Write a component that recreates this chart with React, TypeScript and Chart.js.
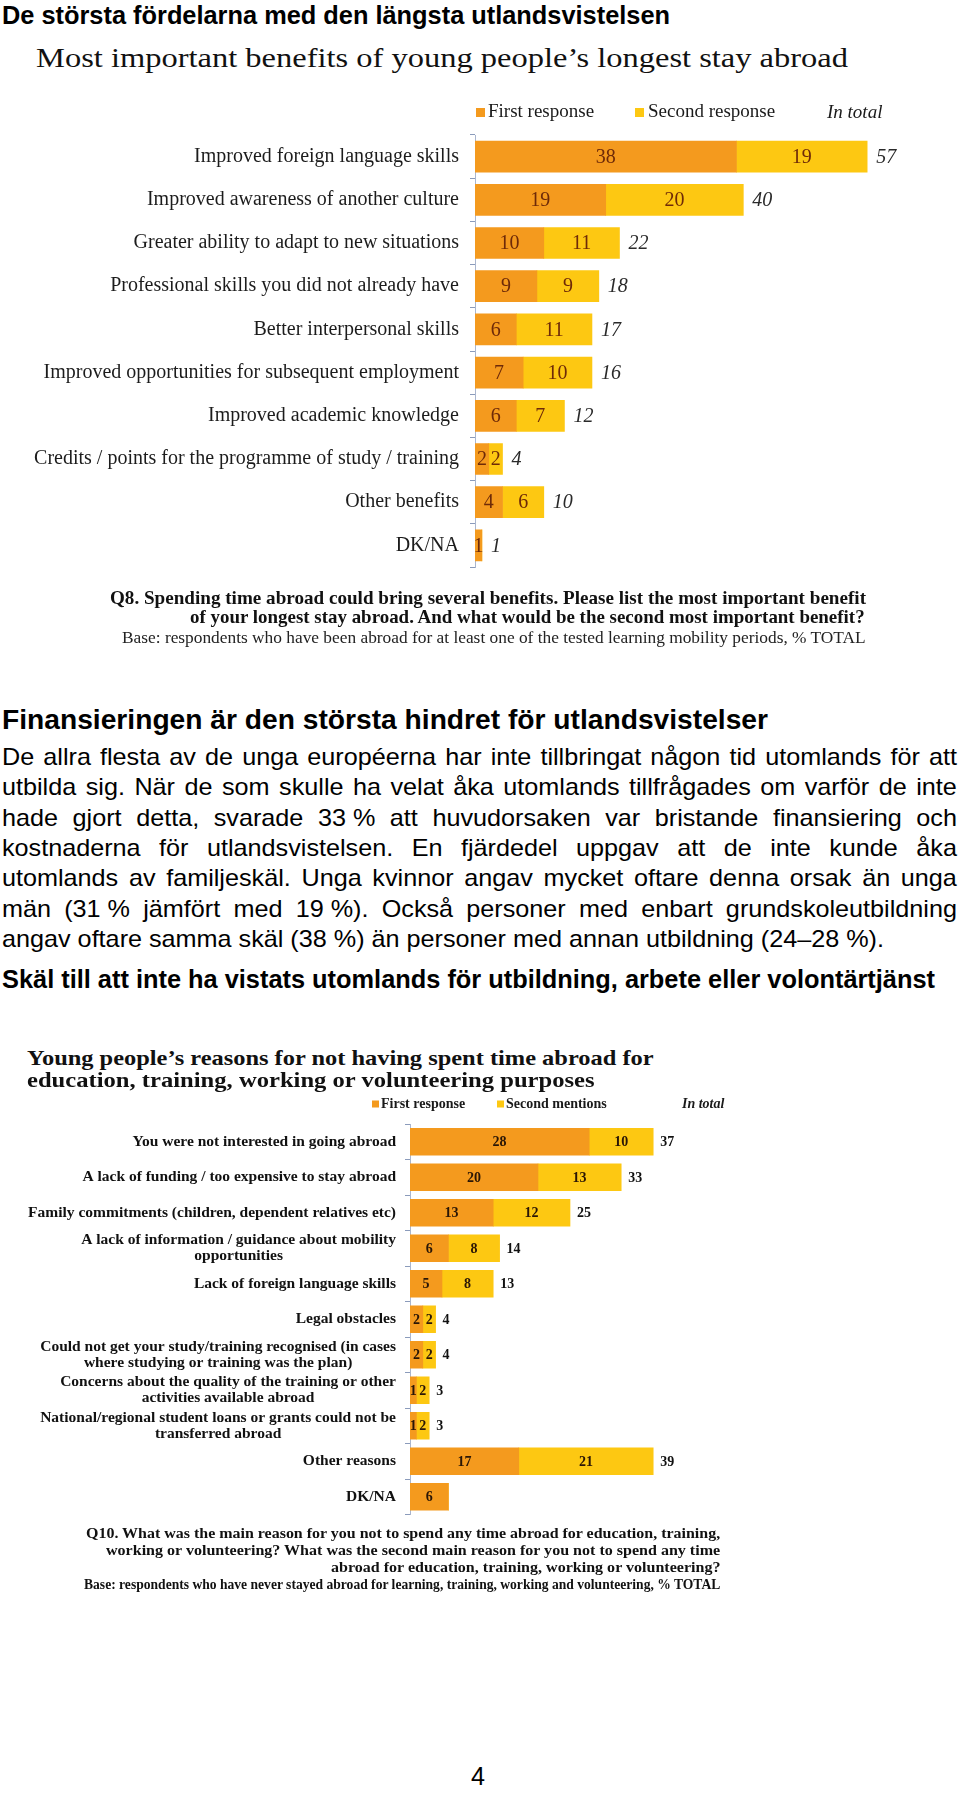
import React, { useEffect, useRef } from 'react';
import { Chart, registerables } from 'chart.js';
Chart.register(...registerables);

// ---------- Data: chart 1 ----------
const benefitCategories = [
  'Improved foreign language skills',
  'Improved awareness of another culture',
  'Greater ability to adapt to new situations',
  'Professional skills you did not already have',
  'Better interpersonal skills',
  'Improved opportunities for subsequent employment',
  'Improved academic knowledge',
  'Credits / points for the programme of study / training',
  'Other benefits',
  'DK/NA',
];
const benefitFirst = [38, 19, 10, 9, 6, 7, 6, 2, 4, 1];
const benefitSecond = [19, 20, 11, 9, 11, 10, 7, 2, 6, 0];
const benefitTotal: (number | null)[] = [57, 40, 22, 18, 17, 16, 12, 4, 10, 1];
const benefitLegend = ['First response', 'Second response', 'In total'];

// ---------- Data: chart 2 ----------
const reasonCategories: string[][] = [
  ['You were not interested in going abroad'],
  ['A lack of funding / too expensive to stay abroad'],
  ['Family commitments (children, dependent relatives etc)'],
  ['A lack of information / guidance about mobility', 'opportunities'],
  ['Lack of foreign language skills'],
  ['Legal obstacles'],
  ['Could not get your study/training recognised (in cases', 'where studying or training was the plan)'],
  ['Concerns about the quality of the training or other', 'activities available abroad'],
  ['National/regional student loans or grants could not be', 'transferred abroad'],
  ['Other reasons'],
  ['DK/NA'],
];
const reasonFirst = [28, 20, 13, 6, 5, 2, 2, 1, 1, 17, 6];
const reasonSecond = [10, 13, 12, 8, 8, 2, 2, 2, 2, 21, 0];
const reasonTotal: (number | null)[] = [37, 33, 25, 14, 13, 4, 4, 3, 3, 39, null];
const reasonLegend = ['First response', 'Second mentions', 'In total'];

// ---------- Text ----------
const pageTitle = 'De största fördelarna med den längsta utlandsvistelsen';
const chart1Title = 'Most important benefits of young people\u2019s longest stay abroad';
const chart1Notes = [
  'Q8. Spending time abroad could bring several benefits. Please list the most important benefit',
  'of your longest stay abroad. And what would be the second most important benefit?',
  'Base: respondents who have been abroad for at least one of the tested learning mobility periods, % TOTAL',
];
const heading2 = 'Finansieringen är den största hindret för utlandsvistelser';
const bodyLines = [
  'De allra flesta av de unga européerna har inte tillbringat någon tid utomlands för att',
  'utbilda sig. När de som skulle ha velat åka utomlands tillfrågades om varför de inte',
  'hade gjort detta, svarade 33\u00a0% att huvudorsaken var bristande finansiering och',
  'kostnaderna för utlandsvistelsen. En fjärdedel uppgav att de inte kunde åka',
  'utomlands av familjeskäl. Unga kvinnor angav mycket oftare denna orsak än unga',
  'män (31\u00a0% jämfört med 19\u00a0%). Också personer med enbart grundskoleutbildning',
  'angav oftare samma skäl (38\u00a0%) än personer med annan utbildning (24\u201328\u00a0%).',
];
const heading3 = 'Skäl till att inte ha vistats utomlands för utbildning, arbete eller volontärtjänst';
const chart2TitleLines = [
  'Young people\u2019s reasons for not having spent time abroad for',
  'education, training, working or volunteering purposes',
];
const chart2Notes = [
  'Q10. What was the main reason for you not to spend any time abroad for education, training,',
  'working or volunteering? What was the second main reason for you not to spend any time',
  'abroad for education, training, working or volunteering?',
  'Base: respondents who have never stayed abroad for learning, training, working and volunteering, % TOTAL',
];
const pageNumber = '4';

const FIRST_COLOR = '#F49A1E';
const SECOND_COLOR = '#FDC812';
const SANS = "'Liberation Sans', Arial, sans-serif";
const SERIF = "'Liberation Serif', 'Times New Roman', serif";

let mctx: CanvasRenderingContext2D | null = null;
function textWidth(text: string, font: string): number {
  if (!mctx) mctx = document.createElement('canvas').getContext('2d');
  mctx!.font = font;
  return mctx!.measureText(text).width;
}

function FitText(props: {
  text: string; left: number; right: number; cy: number; size: number;
  family: string; weight?: string; italic?: boolean; color?: string;
}) {
  const { text, left, right, cy, size, family, weight = 'normal', italic = false, color = '#000' } = props;
  const font = `${italic ? 'italic' : 'normal'} ${weight} ${size}px ${family}`;
  const w = textWidth(text, font);
  const k = (right - left) / w;
  return (
    <div
      style={{
        font, position: 'absolute', left, top: cy - size / 2, height: size, lineHeight: `${size}px`,
        whiteSpace: 'pre', color, transform: `scaleX(${k})`, transformOrigin: 'left center',
      }}
    >
      {text}
    </div>
  );
}

function BodyText() {
  const size = 24;
  const font = `normal normal ${size}px ${SANS}`;
  const last = bodyLines[bodyLines.length - 1];
  const k = 882 / textWidth(last, font);
  const left = 2;
  const fullW = 955;
  return (
    <>
      {bodyLines.map((line, i) => {
        const cy = 757 + i * 30.3;
        const isLast = i === bodyLines.length - 1;
        const words = line.split(' ');
        return (
          <div
            key={i}
            style={{
              font, position: 'absolute', left, top: cy - size / 2, height: size, lineHeight: `${size}px`,
              width: isLast ? undefined : fullW / k, display: 'flex',
              justifyContent: isLast ? 'flex-start' : 'space-between',
              whiteSpace: 'pre', color: '#000', transform: `scaleX(${k})`, transformOrigin: 'left center',
            }}
          >
            {isLast ? <span>{line}</span> : words.map((w, j) => <span key={j}>{w}</span>)}
          </div>
        );
      })}
    </>
  );
}

function valueLabelsPlugin(o: {
  first: number[]; second: number[]; total: (number | null)[];
  inFont: string; inColor: string; totFont: string; totColor: string; totGap: number;
}) {
  return {
    id: 'valueLabels',
    afterDatasetsDraw(chart: any) {
      const ctx = chart.ctx;
      const xs = chart.scales.x;
      const ys = chart.scales.y;
      ctx.save();
      ctx.textBaseline = 'middle';
      ctx.textAlign = 'center';
      ctx.font = o.inFont;
      ctx.fillStyle = o.inColor;
      [0, 1].forEach((di) => {
        const meta = chart.getDatasetMeta(di);
        const vals = di === 0 ? o.first : o.second;
        meta.data.forEach((bar: any, i: number) => {
          if (!vals[i]) return;
          const p = bar.getProps(['x', 'base', 'y'], true);
          ctx.fillText(String(vals[i]), (p.x + p.base) / 2, p.y + 1);
        });
      });
      ctx.textAlign = 'left';
      ctx.font = o.totFont;
      ctx.fillStyle = o.totColor;
      o.total.forEach((t, i) => {
        if (t == null) return;
        const end = xs.getPixelForValue(o.first[i] + o.second[i]);
        ctx.fillText(String(t), end + o.totGap, ys.getPixelForValue(i) + 1);
      });
      ctx.restore();
    },
  };
}

function legendPlugin(o: {
  labels: string[]; y: number; markers: number[]; texts: number[]; size: number; font: string; totalFont: string;
}) {
  return {
    id: 'customLegend',
    afterDraw(chart: any) {
      const ctx = chart.ctx;
      ctx.save();
      ctx.textBaseline = 'middle';
      ctx.textAlign = 'left';
      [FIRST_COLOR, SECOND_COLOR].forEach((c, i) => {
        ctx.fillStyle = c;
        ctx.fillRect(o.markers[i], o.y - o.size / 2, o.size, o.size);
      });
      ctx.fillStyle = '#1a1a1a';
      ctx.font = o.font;
      ctx.fillText(o.labels[0], o.texts[0], o.y);
      ctx.fillText(o.labels[1], o.texts[1], o.y);
      ctx.font = o.totalFont;
      ctx.fillText(o.labels[2], o.texts[2], o.y);
      ctx.restore();
    },
  };
}

const reasonLabelPlugin = {
  id: 'reasonLabels',
  afterDraw(chart: any) {
    const ctx = chart.ctx;
    const ys = chart.scales.y;
    const right = 396;
    ctx.save();
    ctx.font = `bold 15.5px ${SERIF}`;
    ctx.fillStyle = '#111';
    ctx.textBaseline = 'middle';
    ctx.textAlign = 'center';
    reasonCategories.forEach((lines, i) => {
      const widths = lines.map((l) => ctx.measureText(l).width);
      const maxW = Math.max(...widths);
      const cx = right - maxW / 2;
      const yc = ys.getPixelForValue(i);
      lines.forEach((l, j) => ctx.fillText(l, cx, yc + (j - (lines.length - 1) / 2) * 16));
    });
    ctx.restore();
  },
};

export default function App() {
  const c1 = useRef<HTMLCanvasElement>(null);
  const c2 = useRef<HTMLCanvasElement>(null);

  useEffect(() => {
    const axisBorder = { display: true, color: '#aab6ce', width: 1 };
    const axisGrid = { drawOnChartArea: false, drawTicks: true, tickLength: 5, color: '#8b9bbb', offset: true };

    const chart1 = new Chart(c1.current!, {
      type: 'bar',
      data: {
        labels: benefitCategories,
        datasets: [
          { label: benefitLegend[0], data: benefitFirst, backgroundColor: FIRST_COLOR, barThickness: 31, borderWidth: 0 },
          { label: benefitLegend[1], data: benefitSecond, backgroundColor: SECOND_COLOR, barThickness: 31, borderWidth: 0 },
        ],
      },
      options: {
        indexAxis: 'y',
        responsive: false,
        animation: false,
        layout: { padding: { top: 45, bottom: 18, left: 0, right: 3.4 } },
        scales: {
          x: { stacked: true, display: false, min: 0, max: 70 },
          y: {
            stacked: true,
            afterFit: (s: any) => { s.width = 475; },
            border: axisBorder,
            grid: axisGrid,
            ticks: { padding: 11, color: '#1c1c1c', font: { family: SERIF, size: 20 } },
          },
        },
        plugins: { legend: { display: false }, tooltip: { enabled: false } },
      } as any,
      plugins: [
        valueLabelsPlugin({
          first: benefitFirst, second: benefitSecond, total: benefitTotal,
          inFont: `20px ${SERIF}`, inColor: '#6e2a08', totFont: `italic 20px ${SERIF}`, totColor: '#2a2a2a', totGap: 9,
        }),
        legendPlugin({
          labels: benefitLegend, y: 22.5, markers: [476, 635], texts: [488, 648, 827], size: 9,
          font: `19px ${SERIF}`, totalFont: `italic 19px ${SERIF}`,
        }),
      ],
    });

    const chart2 = new Chart(c2.current!, {
      type: 'bar',
      data: {
        labels: reasonCategories,
        datasets: [
          { label: reasonLegend[0], data: reasonFirst, backgroundColor: FIRST_COLOR, barThickness: 27, borderWidth: 0 },
          { label: reasonLegend[1], data: reasonSecond, backgroundColor: SECOND_COLOR, barThickness: 27, borderWidth: 0 },
        ],
      },
      options: {
        indexAxis: 'y',
        responsive: false,
        animation: false,
        layout: { padding: { top: 34, bottom: 15.5, left: 0, right: 6 } },
        scales: {
          x: { stacked: true, display: false, min: 0, max: 85 },
          y: {
            stacked: true,
            afterFit: (s: any) => { s.width = 410; },
            border: axisBorder,
            grid: axisGrid,
            ticks: { display: false },
          },
        },
        plugins: { legend: { display: false }, tooltip: { enabled: false } },
      } as any,
      plugins: [
        reasonLabelPlugin,
        valueLabelsPlugin({
          first: reasonFirst, second: reasonSecond, total: reasonTotal,
          inFont: `bold 14px ${SERIF}`, inColor: '#2a1606', totFont: `bold 14px ${SERIF}`, totColor: '#111', totGap: 7,
        }),
        legendPlugin({
          labels: reasonLegend, y: 14, markers: [372, 497], texts: [381, 506, 682], size: 7,
          font: `bold 14px ${SERIF}`, totalFont: `italic bold 14px ${SERIF}`,
        }),
      ],
    });

    return () => {
      chart1.destroy();
      chart2.destroy();
    };
  }, []);

  return (
    <div style={{ position: 'absolute', left: 0, top: 0, width: 960, height: 1793, background: '#fff', overflow: 'hidden' }}>
      <canvas ref={c1} width={960} height={500} style={{ position: 'absolute', left: 0, top: 90 }} />
      <canvas ref={c2} width={960} height={440} style={{ position: 'absolute', left: 0, top: 1090 }} />

      <FitText text={pageTitle} left={2} right={670} cy={15} size={25} family={SANS} weight="bold" />
      <FitText text={chart1Title} left={36} right={848} cy={58} size={27} family={SERIF} color="#111" />
      <FitText text={chart1Notes[0]} left={110} right={866} cy={597} size={19} family={SERIF} weight="bold" color="#111" />
      <FitText text={chart1Notes[1]} left={190} right={866} cy={616} size={19} family={SERIF} weight="bold" color="#111" />
      <FitText text={chart1Notes[2]} left={122} right={866} cy={637} size={17} family={SERIF} color="#222" />

      <FitText text={heading2} left={2} right={768} cy={720} size={27} family={SANS} weight="bold" />
      <BodyText />
      <FitText text={heading3} left={2} right={935} cy={979} size={25} family={SANS} weight="bold" />

      <FitText text={chart2TitleLines[0]} left={27} right={654} cy={1058} size={22} family={SERIF} weight="bold" color="#111" />
      <FitText text={chart2TitleLines[1]} left={27} right={595} cy={1080} size={22} family={SERIF} weight="bold" color="#111" />

      <FitText text={chart2Notes[0]} left={86} right={721} cy={1533} size={14.5} family={SERIF} weight="bold" color="#111" />
      <FitText text={chart2Notes[1]} left={106} right={721} cy={1550} size={14.5} family={SERIF} weight="bold" color="#111" />
      <FitText text={chart2Notes[2]} left={331} right={721} cy={1567} size={14.5} family={SERIF} weight="bold" color="#111" />
      <FitText text={chart2Notes[3]} left={84} right={721} cy={1584} size={14.5} family={SERIF} weight="bold" color="#111" />

      <FitText text={pageNumber} left={471} right={485} cy={1776} size={26} family={SANS} />
    </div>
  );
}
